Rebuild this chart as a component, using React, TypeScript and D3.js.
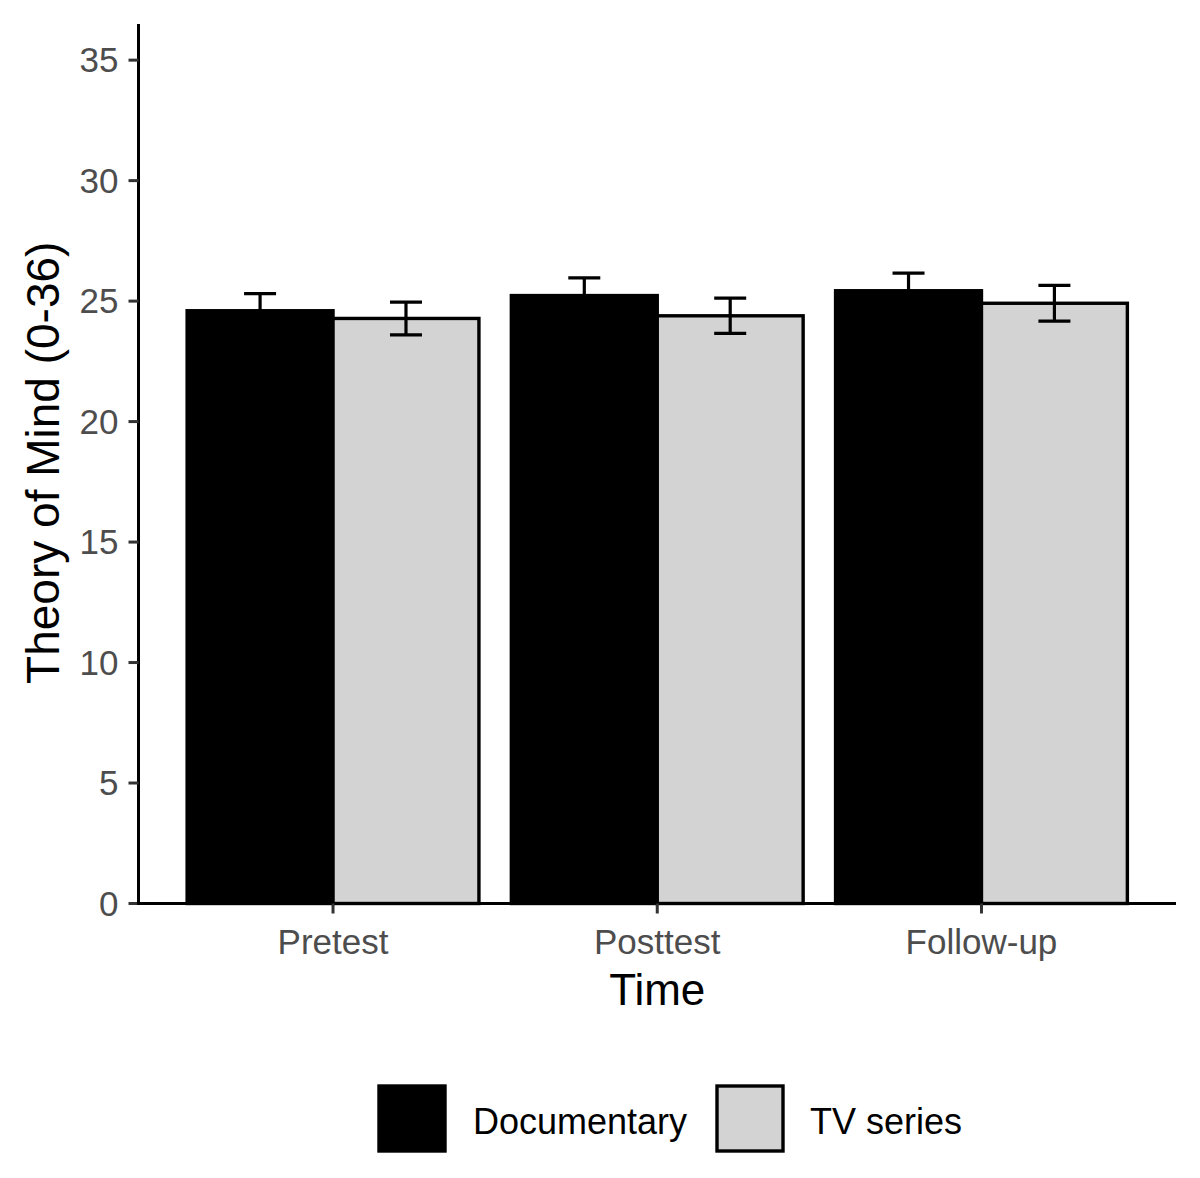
import React from "react";
import * as d3 from "d3";

const times = ["Pretest", "Posttest", "Follow-up"];
const groups = ["Documentary", "TV series"];
const documentaryMeans = [24.6, 25.23, 25.43];
const documentarySE = [0.71, 0.73, 0.73];
const tvMeans = [24.28, 24.39, 24.91];
const tvSE = [0.68, 0.73, 0.74];
const yTicks = [0, 5, 10, 15, 20, 25, 30, 35];
const groupFills = ["#000000", "#D3D3D3"];

const W = 1200;
const H = 1178;
const margin = { top: 24, right: 24, bottom: 274.5, left: 138.5 };
const FONT = "'Liberation Sans', Arial, sans-serif";

export default function App() {
  const innerH = H - margin.top - margin.bottom;
  const xLeft = margin.left;
  const xRight = W - margin.right;

  const x = d3.scalePoint<string>().domain(times).range([xLeft, xRight]).padding(0.6);
  const step = x.step();
  const dodge = d3
    .scaleBand<string>()
    .domain(groups)
    .range([-step * 0.45, step * 0.45])
    .padding(0);
  const y = d3.scaleLinear().domain([0, 36.5]).range([margin.top + innerH, margin.top]);

  const rows = times.flatMap((t, i) => [
    { time: t, group: groups[0], mean: documentaryMeans[i], se: documentarySE[i] },
    { time: t, group: groups[1], mean: tvMeans[i], se: tvSE[i] },
  ]);
  const fill = d3.scaleOrdinal<string, string>().domain(groups).range(groupFills);

  const y0 = y(0);
  const capW = 32;

  return (
    <svg
      width={W}
      height={H}
      style={{ position: "absolute", left: 0, top: 0, background: "#fff" }}
      fontFamily={FONT}
    >
      <rect width={W} height={H} fill="#fff" />

      {/* bars */}
      {rows.map((d, i) => (
        <rect
          key={"b" + i}
          x={(x(d.time) as number) + (dodge(d.group) as number)}
          y={y(d.mean)}
          width={dodge.bandwidth()}
          height={y0 - y(d.mean)}
          fill={fill(d.group)}
          stroke="#000"
          strokeWidth={3.4}
        />
      ))}

      {/* error bars */}
      {rows.map((d, i) => {
        const cx = (x(d.time) as number) + (dodge(d.group) as number) + dodge.bandwidth() / 2;
        const top = y(d.mean + d.se);
        const bot = y(d.mean - d.se);
        return (
          <g key={"e" + i} stroke="#000" strokeWidth={3.2}>
            <line x1={cx} x2={cx} y1={top} y2={bot} />
            <line x1={cx - capW / 2} x2={cx + capW / 2} y1={top} y2={top} />
            <line x1={cx - capW / 2} x2={cx + capW / 2} y1={bot} y2={bot} />
          </g>
        );
      })}

      {/* y axis */}
      <line x1={xLeft} x2={xLeft} y1={margin.top} y2={y0 + 1.5} stroke="#000" strokeWidth={3} />
      {yTicks.map((t) => (
        <g key={"y" + t}>
          <line x1={xLeft - 10} x2={xLeft} y1={y(t)} y2={y(t)} stroke="#333" strokeWidth={3} />
          <text
            x={xLeft - 20}
            y={y(t)}
            dy="0.35em"
            textAnchor="end"
            fontSize={35}
            fill="#4D4D4D"
          >
            {t}
          </text>
        </g>
      ))}

      {/* x axis */}
      <line x1={xLeft - 1.5} x2={xRight} y1={y0} y2={y0} stroke="#000" strokeWidth={3} />
      {times.map((t) => (
        <g key={"x" + t}>
          <line x1={x(t)} x2={x(t)} y1={y0} y2={y0 + 10} stroke="#333" strokeWidth={3} />
          <text x={x(t)} y={y0 + 50} textAnchor="middle" fontSize={35} fill="#4D4D4D">
            {t}
          </text>
        </g>
      ))}

      {/* axis titles */}
      <text x={(xLeft + xRight) / 2} y={1005} textAnchor="middle" fontSize={44} fill="#000">
        Time
      </text>
      <text
        transform={`translate(59,${(margin.top + y0) / 2 - 1}) rotate(-90)`}
        textAnchor="middle"
        fontSize={46}
        fill="#000"
      >
        Theory of Mind (0-36)
      </text>

      {/* legend */}
      {groups.map((g, i) => {
        const kx = i === 0 ? 379 : 717;
        const tx = i === 0 ? 473 : 810;
        return (
          <g key={"l" + g}>
            <rect
              x={kx}
              y={1086}
              width={66}
              height={65}
              fill={fill(g)}
              stroke="#000"
              strokeWidth={3.4}
            />
            <text x={tx} y={1121} dy="0.35em" fontSize={36} fill="#000">
              {g}
            </text>
          </g>
        );
      })}
    </svg>
  );
}
